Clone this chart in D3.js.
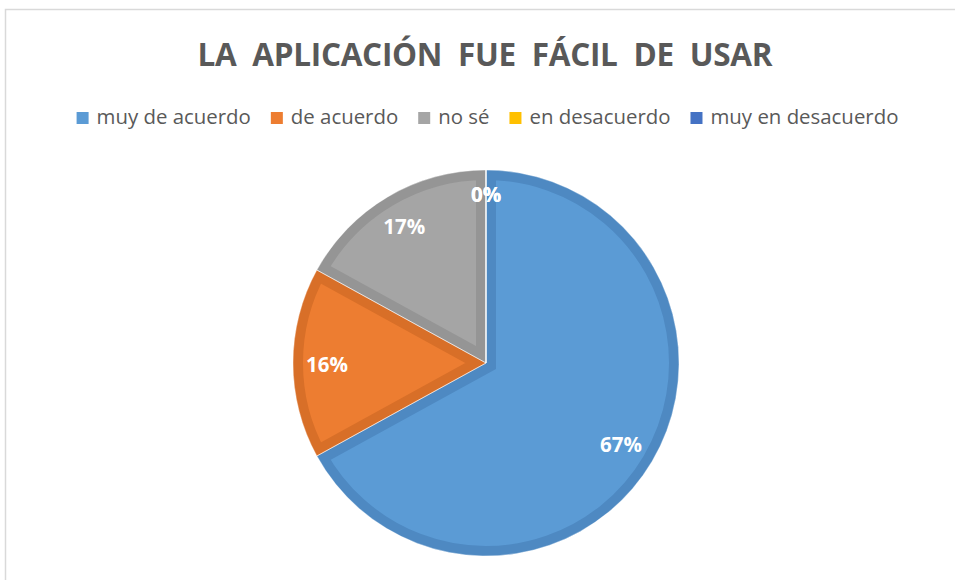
<!DOCTYPE html>
<html>
<head>
<meta charset="utf-8">
<script src="https://cdn.jsdelivr.net/npm/d3@7"></script>
<style>
  body { margin: 0; background: #fff; }
  svg { display: block; font-family: 'Open Sans', 'Noto Sans', sans-serif; }
</style>
</head>
<body>
<svg id="chart" width="955" height="580"></svg>
<script>
const title = 'LA  APLICACIÓN  FUE  FÁCIL  DE  USAR';
const categories = ['muy de acuerdo', 'de acuerdo', 'no sé', 'en desacuerdo', 'muy en desacuerdo'];
const values = [67, 16, 17, 0, 0];
const fills = ['#5b9bd5', '#ed7d31', '#a5a5a5', '#ffc000', '#4472c4'];
const borders = ['#4e89c2', '#d86f28', '#959595', '#e0a800', '#3a62ab'];

const width = 955, height = 580;
const cx = 486, cy = 363, R = 193;

const svg = d3.select('#chart');

// chart frame
svg.append('rect')
  .attr('x', 5.5).attr('y', 9.5)
  .attr('width', width).attr('height', height)
  .attr('fill', '#fff')
  .attr('stroke', '#d9d9d9')
  .attr('stroke-width', 1.5);

svg.append('text')
  .attr('x', 485).attr('y', 66)
  .attr('text-anchor', 'middle')
  .attr('font-size', 31.5)
  .attr('font-weight', 700)
  .attr('fill', '#595959')
  .attr('textLength', 575)
  .attr('lengthAdjust', 'spacing')
  .style('white-space', 'pre')
  .text(title);

// legend, laid out from measured text widths
const legend = svg.append('g');
const items = legend.selectAll('g.item').data(categories).enter()
  .append('g').attr('class', 'item');
items.append('rect')
  .attr('width', 12).attr('height', 12)
  .attr('y', 112)
  .attr('fill', (d, i) => fills[i]);
items.append('text')
  .attr('x', 20).attr('y', 124)
  .attr('font-size', 20.4)
  .attr('fill', '#595959')
  .text(d => d);
let x = 0;
const offsets = [];
items.each(function () {
  offsets.push(x);
  x += 20 + this.querySelector('text').getComputedTextLength() + 20;
});
const total = x - 20;
const startX = 487.5 - total / 2;
items.attr('transform', (d, i) => `translate(${startX + offsets[i]},0)`);

// pie
const pie = d3.pie().sort(null).value(d => d)(values);
const arc = d3.arc().innerRadius(0).outerRadius(R);
const g = svg.append('g').attr('transform', `translate(${cx},${cy})`);

const defs = svg.append('defs');
pie.forEach((p, i) => {
  defs.append('clipPath').attr('id', 'clip' + i)
    .append('path').attr('d', arc(p));
});

g.selectAll('path.slice').data(pie).enter()
  .append('path')
    .attr('class', 'slice')
    .attr('d', arc)
    .attr('clip-path', (d, i) => `url(#clip${i})`)
    .attr('fill', (d, i) => fills[i])
    .attr('stroke', (d, i) => borders[i])
    .attr('stroke-width', 20)
    .attr('stroke-linejoin', 'miter');

g.selectAll('path.sep').data(pie).enter()
  .append('path')
    .attr('class', 'sep')
    .attr('d', arc)
    .attr('fill', 'none')
    .attr('stroke', '#fff')
    .attr('stroke-opacity', 0.45)
    .attr('stroke-width', 1);

// labels, inside end
const total_v = d3.sum(values);
const labels = g.selectAll('text.lbl').data(pie).enter()
  .append('text')
    .attr('class', 'lbl')
    .attr('font-size', 20.5)
    .attr('font-weight', 700)
    .attr('fill', '#fff')
    .attr('text-anchor', 'middle')
    .attr('dominant-baseline', 'central')
    .text(d => Math.round(d.value / total_v * 100) + '%');
labels.each(function (d) {
  const a = (d.startAngle + d.endAngle) / 2;
  const hw = this.getComputedTextLength() / 2, hh = 10;
  const r = 180 - (hw * Math.abs(Math.sin(a)) + hh * Math.abs(Math.cos(a)));
  d3.select(this)
    .attr('x', r * Math.sin(a))
    .attr('y', -r * Math.cos(a) + 1);
});
</script>
</body>
</html>
